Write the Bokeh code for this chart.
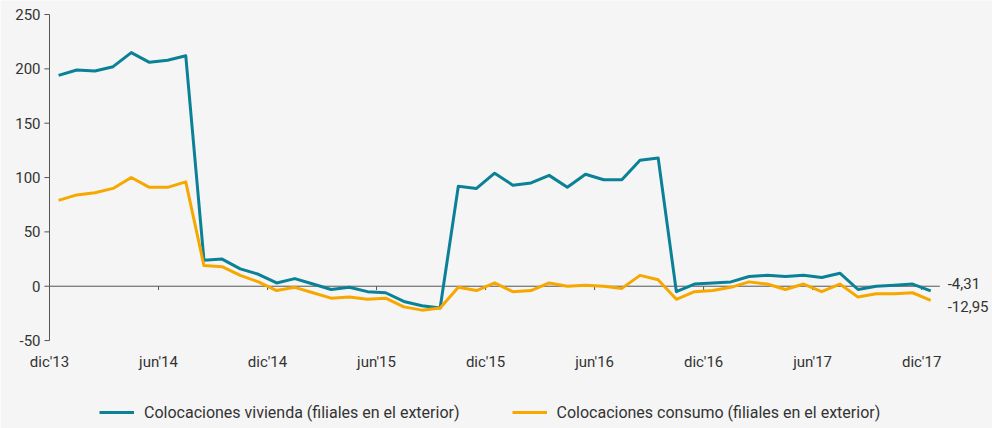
import numpy as np
from bokeh.plotting import figure
from bokeh.models import Range1d, Legend, LegendItem
from bokeh.core.properties import value
from bokeh.embed import file_html
from bokeh.resources import INLINE

# ---- data (monthly, dic'13 .. dic'17) ----
vivienda = [194, 199, 198, 202, 215, 206, 208, 212, 24, 25, 16, 11, 3, 7, 2, -3,
            -1, -5, -6, -14, -18, -20, 92, 90, 104, 93, 95, 102, 91, 103, 98, 98,
            116, 118, -5, 2, 3, 4, 9, 10, 9, 10, 8, 12, -3, 0, 1, 2, -4.31]
consumo = [79, 84, 86, 90, 100, 91, 91, 96, 19, 18, 10, 4, -4, -1, -6, -11,
           -10, -12, -11, -19, -22, -20, -1, -4, 3, -5, -4, 3, 0, 1, 0, -2,
           10, 6, -12, -5, -4, -1, 4, 2, -3, 2, -5, 2, -10, -7, -7, -6, -12.95]
tick_pos = [0, 6, 12, 18, 24, 30, 36, 42, 48]
tick_labels = ["dic'13", "jun'14", "dic'14", "jun'15", "dic'15",
               "jun'16", "dic'16", "jun'17", "dic'17"]
y_ticks = [-50, 0, 50, 100, 150, 200, 250]
y_tick_labels = [str(v) for v in y_ticks]
series_names = ["Colocaciones vivienda (filiales en el exterior)",
                "Colocaciones consumo (filiales en el exterior)"]

n = len(vivienda)
x = np.arange(n) + 0.5
y_min, y_max = y_ticks[0], y_ticks[-1]

TEAL = "#0a8196"
ORANGE = "#f6a800"
BG = "#f5f5f5"
TXT = "#333333"
AX = "#555555"
FONT = "Roboto"

p = figure(width=992, height=428, output_backend="svg", toolbar_location=None,
           x_range=Range1d(-2.697, 51.9), y_range=Range1d(-130.9, 262.9),
           min_border_left=0, min_border_right=0, min_border_top=0,
           min_border_bottom=0)
p.background_fill_color = BG
p.border_fill_color = BG
p.outline_line_color = None
p.grid.visible = False
p.xaxis.visible = False
p.yaxis.visible = False

# value axis line (only over the value range) and its ticks
p.segment(x0=[0], y0=[y_min], x1=[0], y1=[y_max], line_color=AX, line_width=1)
p.segment(x0=[0] * len(y_ticks), y0=y_ticks, x1=[-0.28] * len(y_ticks), y1=y_ticks,
          line_color=AX, line_width=1)
p.text(x=[0] * len(y_ticks), y=y_ticks, text=y_tick_labels, x_offset=-9,
       text_align="right", text_baseline="middle",
       text_font=value(FONT), text_font_size="15px", text_color=TXT)

# zero line with category ticks
p.line(x=[0, n], y=[0, 0], line_color=AX, line_width=1)
p.segment(x0=tick_pos, y0=[0] * len(tick_pos), x1=tick_pos, y1=[-3.5] * len(tick_pos),
          line_color=AX, line_width=1)

# category labels under the value range
p.text(x=tick_pos, y=[y_min] * len(tick_pos), text=tick_labels, y_offset=21,
       text_align="center", text_baseline="middle",
       text_font=value(FONT), text_font_size="15px", text_color=TXT)

r1 = p.line(x=x, y=vivienda, line_color=TEAL, line_width=3, line_join="round")
r2 = p.line(x=x, y=consumo, line_color=ORANGE, line_width=3, line_join="round")

# end labels
lbl_v = f"{vivienda[-1]:.2f}".replace(".", ",")
lbl_c = f"{consumo[-1]:.2f}".replace(".", ",")
p.text(x=[x[-1]], y=[vivienda[-1]], text=[lbl_v],
       x_offset=17, y_offset=-7, text_baseline="middle", text_align="left",
       text_font=value(FONT), text_font_size="15px", text_color=TXT)
p.text(x=[x[-1]], y=[consumo[-1]], text=[lbl_c],
       x_offset=17, y_offset=6, text_baseline="middle", text_align="left",
       text_font=value(FONT), text_font_size="15px", text_color=TXT)

legend = Legend(items=[LegendItem(label=series_names[0], renderers=[r1]),
                       LegendItem(label=series_names[1], renderers=[r2])],
                orientation="horizontal", location=(99, 6),
                background_fill_alpha=0, border_line_color=None,
                label_text_font=FONT, label_text_font_size="16px",
                label_text_color=TXT, glyph_width=35, glyph_height=20,
                label_standoff=10, spacing=52, padding=5, margin=0)
p.add_layout(legend, "center")

open("out.html", "w").write(file_html(p, INLINE))
